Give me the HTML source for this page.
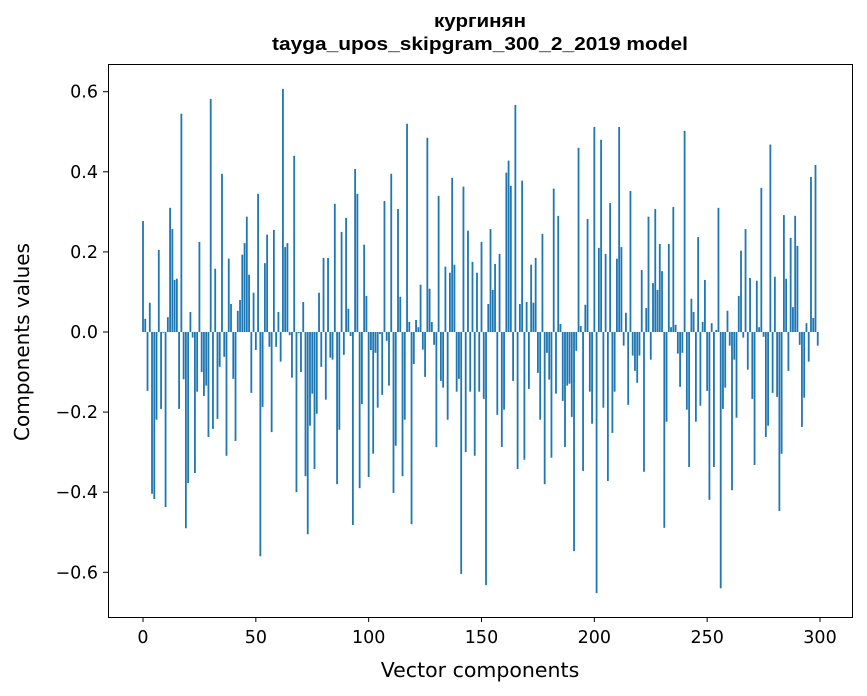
<!DOCTYPE html>
<html><head><meta charset="utf-8"><style>
body{margin:0;background:#fff;}
svg{display:block;font-family:"DejaVu Sans","Liberation Sans",sans-serif;}
</style></head><body>
<svg id="chart" width="867" height="696" viewBox="0 0 867 696" xmlns="http://www.w3.org/2000/svg">
<rect width="867" height="696" fill="#fff"/>
<text x="480" y="27" text-anchor="middle" font-size="18" font-weight="bold" font-family="Liberation Sans, sans-serif" textLength="92" lengthAdjust="spacingAndGlyphs">кургинян</text>
<text x="480" y="50" text-anchor="middle" font-size="18" font-weight="bold" font-family="Liberation Sans, sans-serif" textLength="416" lengthAdjust="spacingAndGlyphs">tayga_upos_skipgram_300_2_2019 model</text>
<g id="bars"></g>
<g id="axes"></g>
<rect x="108.5" y="64.5" width="744" height="553" fill="none" stroke="#000" stroke-width="1"/>
<text x="480" y="677" text-anchor="middle" font-size="20.5">Vector components</text>
<text transform="translate(29,342) rotate(-90)" text-anchor="middle" font-size="20">Components values</text>
</svg>
<script>
const values = [0.277,0.033,-0.147,0.073,-0.404,-0.417,-0.219,0.205,-0.192,-0.002,
-0.437,0.037,0.31,0.257,0.13,0.133,-0.192,0.545,-0.118,-0.49,
-0.377,0.05,-0.014,-0.352,-0.149,0.225,-0.1,-0.16,-0.134,-0.262,
0.582,-0.242,0.158,-0.217,-0.087,0.395,-0.062,-0.309,0.183,0.07,
-0.117,-0.272,0.053,0.08,0.193,0.222,0.288,0.143,-0.152,0.098,
-0.045,0.345,-0.56,-0.187,0.172,0.243,-0.037,-0.25,0.255,-0.037,
0.05,-0.074,0.607,0.212,0.222,-0.008,-0.114,0.44,-0.4,-0.003,
-0.1,0.075,-0.36,-0.505,-0.234,-0.154,-0.342,-0.204,0.098,-0.087,
0.185,-0.169,0.185,-0.064,-0.069,0.32,-0.38,-0.244,0.25,-0.057,
0.285,0.058,-0.01,-0.482,0.407,0.345,-0.39,-0.18,0.218,0.09,
-0.362,-0.045,-0.304,-0.052,-0.189,-0.005,-0.157,0.327,-0.022,-0.134,
0.395,-0.402,-0.284,0.307,0.088,-0.36,-0.219,0.52,0.025,-0.48,
-0.08,0.03,0.012,0.118,-0.044,-0.112,0.485,0.108,0.025,-0.032,
-0.287,0.34,-0.122,-0.139,0.163,-0.219,0.148,0.385,0.168,-0.149,
-0.117,-0.604,0.363,-0.3,0.253,-0.149,0.175,-0.309,0.148,-0.149,
0.225,-0.167,-0.632,0.07,0.257,0.105,0.17,-0.207,0.195,-0.287,
-0.194,0.398,0.428,0.365,-0.122,0.567,-0.342,0.07,0.378,-0.319,
0.075,-0.142,0.168,0.073,0.185,-0.102,-0.219,0.245,-0.38,-0.052,
-0.119,-0.314,0.358,-0.154,0.29,0.02,-0.172,-0.287,-0.134,-0.129,
-0.212,-0.547,-0.047,0.46,0.015,-0.347,0.068,0.282,-0.149,-0.229,
0.512,-0.652,0.21,0.48,-0.189,0.195,-0.372,0.322,-0.252,-0.149,
0.183,0.512,0.212,-0.034,0.048,-0.182,0.352,-0.059,-0.097,-0.127,
-0.059,0.155,-0.349,0.06,0.288,-0.069,0.122,0.307,0.105,0.22,
0.152,-0.489,-0.224,0.22,0.012,0.312,0.018,-0.054,-0.137,-0.052,
0.502,-0.194,-0.337,0.083,0.05,-0.224,0.237,-0.184,0.025,0.13,
-0.147,-0.419,0.022,-0.337,0.005,0.31,-0.64,-0.192,-0.139,0.053,
-0.034,-0.395,-0.069,-0.214,0.09,0.203,-0.014,0.257,-0.094,0.135,
-0.167,-0.332,0.128,0.012,0.36,-0.012,-0.262,-0.234,0.468,-0.152,
0.138,-0.162,-0.447,-0.304,0.292,0.133,-0.097,0.235,0.062,0.29,
0.215,-0.032,-0.237,-0.164,0.022,-0.074,0.387,0.035,0.417,-0.034];
const xTicks = [0,50,100,150,200,250,300];
const yTicks = [-0.6,-0.4,-0.2,0,0.2,0.4,0.6];
const yTickLabels = ["\u22120.6","\u22120.4","\u22120.2","0.0","0.2","0.4","0.6"];

const NS="http://www.w3.org/2000/svg";
const X0=143, XS=(820-143)/300;
const Y0=332, YS=400.5;
function xs(v){return X0+v*XS;}
function ys(v){return Y0-v*YS;}
const bars=document.getElementById('bars');
const bw=0.8*XS;
values.forEach((v,i)=>{
  const r=document.createElementNS(NS,'rect');
  
  
  const y1=ys(Math.max(v,0)), y2=ys(Math.min(v,0));
  r.setAttribute('x',(xs(i)-bw/2).toFixed(2));
  r.setAttribute('y',y1.toFixed(2));
  r.setAttribute('width',bw.toFixed(2));
  r.setAttribute('height',Math.max(y2-y1,0.3).toFixed(2));
  r.setAttribute('fill','#1f77b4');
  bars.appendChild(r);
});
const axes=document.getElementById('axes');
xTicks.forEach(t=>{
  const x=xs(t);
  const l=document.createElementNS(NS,'line');
  
  
  l.setAttribute('x1',x);l.setAttribute('x2',x);l.setAttribute('y1',617);l.setAttribute('y2',622);
  l.setAttribute('stroke','#000');
  axes.appendChild(l);
  const tx=document.createElementNS(NS,'text');
  
  
  tx.setAttribute('x',x);tx.setAttribute('y',643);
  tx.setAttribute('text-anchor','middle');tx.setAttribute('font-size','17.5');
  tx.textContent=t;
  axes.appendChild(tx);
});
yTicks.forEach((t,k)=>{
  const y=ys(t);
  const l=document.createElementNS(NS,'line');
  
  
  l.setAttribute('x1',103);l.setAttribute('x2',108);l.setAttribute('y1',y);l.setAttribute('y2',y);
  l.setAttribute('stroke','#000');
  axes.appendChild(l);
  const tx=document.createElementNS(NS,'text');
  
  
  tx.setAttribute('x',98);tx.setAttribute('y',y+6);
  tx.setAttribute('text-anchor','end');tx.setAttribute('font-size','17.5');
  tx.textContent=yTickLabels[k];
  axes.appendChild(tx);
});
</script>
</body></html>
